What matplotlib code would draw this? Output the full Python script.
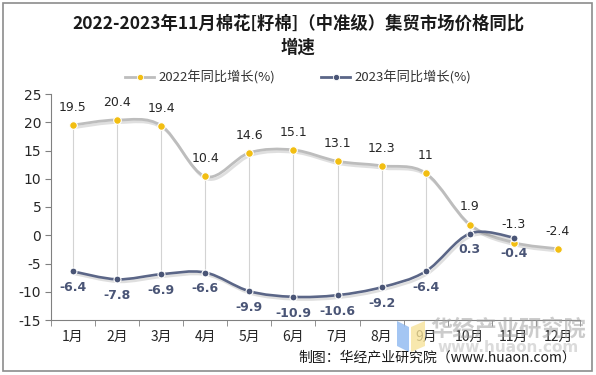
import matplotlib
matplotlib.use("Agg")
import matplotlib.pyplot as plt
import numpy as np
from matplotlib.path import Path
from matplotlib.patches import PathPatch, Rectangle, Polygon
import matplotlib.patheffects as pe
from matplotlib.lines import Line2D

plt.rcParams['font.family'] = ['Noto Sans CJK SC', 'DejaVu Sans']

months = ["1月", "2月", "3月", "4月", "5月", "6月", "7月", "8月", "9月", "10月", "11月", "12月"]
v2022 = [19.5, 20.4, 19.4, 10.4, 14.6, 15.1, 13.1, 12.3, 11, 1.9, -1.3, -2.4]
v2023 = [-6.4, -7.8, -6.9, -6.6, -9.9, -10.9, -10.6, -9.2, -6.4, 0.3, -0.4]
labels2022 = ["19.5", "20.4", "19.4", "10.4", "14.6", "15.1", "13.1", "12.3", "11", "1.9", "-1.3", "-2.4"]
labels2023 = ["-6.4", "-7.8", "-6.9", "-6.6", "-9.9", "-10.9", "-10.6", "-9.2", "-6.4", "0.3", "-0.4"]
yticks = [-15, -10, -5, 0, 5, 10, 15, 20, 25]
title = "2022-2023年11月棉花[籽棉]（中准级）集贸市场价格同比\n增速"
legend_names = ["2022年同比增长(%)", "2023年同比增长(%)"]

C22_LINE = "#BDBDBD"
C22_MK = "#F2BE12"
C23_LINE = "#5B6687"
C23_MK = "#4A5576"

fig = plt.figure(figsize=(5.96, 3.75), dpi=100)
ax = fig.add_axes([51/596, 1-320/375, 529/596, 226/375])


def smooth_path(x, y):
    x = np.asarray(x, float); y = np.asarray(y, float)
    n = len(x)
    verts = [(x[0], y[0])]
    codes = [Path.MOVETO]
    for i in range(n - 1):
        p0 = (x[i-1], y[i-1]) if i > 0 else (x[i], y[i])
        p1 = (x[i], y[i]); p2 = (x[i+1], y[i+1])
        p3 = (x[i+2], y[i+2]) if i + 2 < n else (x[i+1], y[i+1])
        c1 = (p1[0] + (p2[0]-p0[0])/6, p1[1] + (p2[1]-p0[1])/6)
        c2 = (p2[0] - (p3[0]-p1[0])/6, p2[1] - (p3[1]-p1[1])/6)
        verts += [c1, c2, p2]
        codes += [Path.CURVE4]*3
    return Path(verts, codes)

x22 = np.arange(1, len(v2022)+1)
x23 = np.arange(1, len(v2023)+1)

# high-low lines
for i in range(len(v2023)):
    ax.plot([x23[i], x23[i]], [v2023[i], v2022[i]], color="#D3D3D3", lw=0.8, zorder=1)

shadow = [pe.SimpleLineShadow(offset=(1.2, -1.8), shadow_color="#707070", alpha=0.22), pe.Normal()]
p22 = PathPatch(smooth_path(x22, v2022), fill=False, edgecolor=C22_LINE, lw=2.0, zorder=2,
                path_effects=shadow, capstyle='round')
p23 = PathPatch(smooth_path(x23, v2023), fill=False, edgecolor=C23_LINE, lw=1.9, zorder=2,
                path_effects=shadow, capstyle='round')
ax.add_patch(p22); ax.add_patch(p23)
ax.plot(x22, v2022, ls='none', marker='o', ms=5.5, mfc=C22_MK, mec='white', mew=0.8, zorder=4)
ax.plot(x23, v2023, ls='none', marker='o', ms=5, mfc=C23_MK, mec='white', mew=0.8, zorder=4)

for xi, yi, t in zip(x22, v2022, labels2022):
    ax.annotate(t, (xi, yi), xytext=(0, 8), textcoords='offset points', ha='center', va='bottom',
                fontsize=9, color="#262626", family='DejaVu Sans', zorder=5)
for xi, yi, t in zip(x23, v2023, labels2023):
    ax.annotate(t, (xi, yi), xytext=(0, -7), textcoords='offset points', ha='center', va='top',
                fontsize=9, color="#4A5576", fontweight='bold', family='DejaVu Sans', zorder=5)

ax.set_xlim(0.5, 12.5)
ax.set_ylim(-15, 25)
ax.set_yticks(yticks)
ax.set_yticklabels([str(v) for v in yticks], fontsize=10, color="#262626", family='DejaVu Sans')
ax.set_xticks(x22)
ax.set_xticklabels(months, fontsize=10, color="#262626")
ax.set_xticks(np.arange(0.5, 13, 1), minor=True)
ax.tick_params(axis='x', which='major', length=0, pad=7)
ax.tick_params(axis='x', which='minor', length=4, color="#808080", direction='out')
ax.tick_params(axis='y', length=4, color="#808080", direction='out', pad=3)
for s in ['top', 'right']:
    ax.spines[s].set_visible(False)
for s in ['left', 'bottom']:
    ax.spines[s].set_color("#808080")
    ax.spines[s].set_linewidth(0.8)

# legend
h1 = Line2D([], [], color=C22_LINE, lw=2, marker='o', ms=4.5, mfc=C22_MK, mec='white', mew=0.6)
h2 = Line2D([], [], color=C23_LINE, lw=2, marker='o', ms=4.5, mfc=C23_MK, mec='white', mew=0.6)
fig.legend([h1, h2], legend_names, loc='center', bbox_to_anchor=(298/596, 1-78/375), ncol=2,
           frameon=False, fontsize=9.5, handlelength=2.2, handletextpad=0.3, columnspacing=3.5,
           labelcolor="#333333")

fig.text(298/596, 1-36/375, title, ha='center', va='center', fontsize=12.5, fontweight='bold',
         color="#1a1a1a", linespacing=1.45)

# watermark
logo1 = Polygon([[397/596, 1-321/375], [409/596, 1-327/375], [409/596, 1-352/375], [397/596, 1-346/375]],
                closed=True, transform=fig.transFigure, facecolor="#8DB8F0", alpha=0.8, edgecolor='none')
logo2 = Polygon([[411/596, 1-327/375], [425/596, 1-321/375], [425/596, 1-346/375], [411/596, 1-352/375]],
                closed=True, transform=fig.transFigure, facecolor="#F7E39A", alpha=0.8, edgecolor='none')
fig.patches.extend([logo1, logo2])
fig.text(508/596, 1-329/375, "华经产业研究院", ha='center', va='center', fontsize=16, fontweight='bold',
         color="#9A9A9A", alpha=0.5)
fig.text(508/596, 1-347/375, "www.huaon.com", ha='center', va='center', fontsize=11, fontweight='bold',
         color="#B0B0B0", alpha=0.45, family='DejaVu Sans')

fig.text(576/596, 1-357/375, "制图：华经产业研究院（www.huaon.com）", ha='right', va='center',
         fontsize=10, color="#1a1a1a")

fig.patches.append(Rectangle((3/596, 4/375), 589/596, 368/375, transform=fig.transFigure,
                             fill=False, edgecolor="#8C8C8C", lw=1.2))

fig.savefig("out.png", dpi=100)
